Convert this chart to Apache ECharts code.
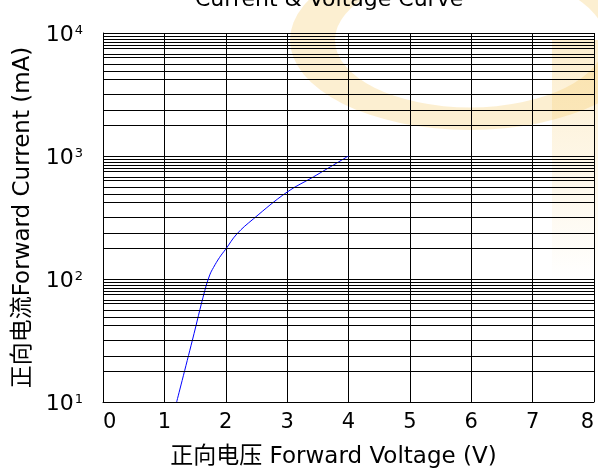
<!DOCTYPE html>
<html>
<head>
<meta charset="utf-8">
<script src="https://cdn.jsdelivr.net/npm/echarts@6/dist/echarts.min.js"></script>
<style>
  html, body { margin: 0; padding: 0; background: #fff; }
  #chart { width: 598px; height: 468px; }
</style>
</head>
<body>
<div id="chart"></div>
<script>
// Forward voltage (V) and forward current (mA) along the I-V curve
const voltage = [1.2, 1.455, 1.66, 1.74, 1.8, 1.9, 2.0, 2.18, 2.45, 3.0, 3.43, 4.0];
const current = [10, 31.6, 81, 108, 124, 150, 175, 232, 308, 509, 677, 1000];

// Axis ranges and tick labels
const xTicks = [0, 1, 2, 3, 4, 5, 6, 7, 8];
const yDecades = [10, 100, 1000, 10000];

// Fine ruling inside each decade of the log paper (mantissas)
const rulingMantissas = [1.78, 2.37, 3.16, 4.22, 4.87, 5.62, 6.31, 6.76, 7.5, 7.94, 8.41, 8.91, 9.33];

const rulingValues = [];
yDecades.slice(0, -1).forEach(d => rulingMantissas.forEach(m => rulingValues.push(m * d)));

const FONT = '"DejaVu Sans", "Noto Sans CJK SC", sans-serif';
const chart = echarts.init(document.getElementById('chart'), null, { renderer: 'canvas' });

chart.setOption({
  animation: false,
  backgroundColor: '#ffffff',
  title: {
    text: 'Current & Voltage Curve',
    left: 190,
    top: -16,
    textStyle: { fontFamily: FONT, fontSize: 22, fontWeight: 'normal', color: '#000' }
  },
  graphic: [
    {
      type: 'ring', z: -10, silent: true,
      shape: { cx: 470, cy: 40, r: 180, r0: 135 },
      scaleY: 0.5, originX: 470, originY: 40,
      style: { fill: '#f6c65b', opacity: 0.28 }
    },
    {
      type: 'rect', z: -10, silent: true,
      shape: { x: 552, y: 40, width: 46, height: 240 },
      style: {
        fill: new echarts.graphic.LinearGradient(0, 0, 0, 1, [
          { offset: 0, color: 'rgba(246,198,91,0.3)' },
          { offset: 1, color: 'rgba(246,198,91,0)' }
        ])
      }
    }
  ],
  grid: { left: 103, right: 4, top: 33, bottom: 66, containLabel: false, outerBoundsMode: 'none' },
  xAxis: {
    type: 'value',
    min: xTicks[0],
    max: xTicks[xTicks.length - 1],
    interval: 1,
    name: '正向电压 Forward Voltage (V)',
    nameLocation: 'middle',
    nameGap: 44,
    nameTextStyle: { fontFamily: FONT, fontSize: 23, color: '#000', padding: [0, 30, 0, 0] },
    axisLine: { show: true, lineStyle: { color: '#000', width: 1 } },
    axisTick: { show: false },
    axisLabel: {
      fontFamily: FONT, fontSize: 21, color: '#000', margin: 10,
      alignMinLabel: 'left', alignMaxLabel: 'right'
    },
    splitLine: { show: true, lineStyle: { color: '#000', width: 1 } }
  },
  yAxis: {
    type: 'log',
    logBase: 10,
    min: yDecades[0],
    max: yDecades[yDecades.length - 1],
    name: '正向电流Forward Current (mA)',
    nameLocation: 'middle',
    nameRotate: 90,
    nameGap: 68,
    nameTextStyle: { fontFamily: FONT, fontSize: 23, color: '#000' },
    axisLine: { show: true, lineStyle: { color: '#000', width: 1 } },
    axisTick: { show: false },
    axisLabel: {
      margin: 20,
      formatter: v => '{b|10}{e|' + Math.round(Math.log10(v)) + '}',
      rich: {
        b: { fontFamily: FONT, fontSize: 22, color: '#000', lineHeight: 26, verticalAlign: 'bottom', padding: [6, 0, 0, 0] },
        e: { fontFamily: FONT, fontSize: 13, color: '#000', lineHeight: 13, verticalAlign: 'top', padding: [4, 0, 0, 1] }
      }
    },
    splitLine: { show: true, lineStyle: { color: '#000', width: 1 } }
  },
  series: [
    {
      // fine ruling of the log paper
      type: 'line',
      z: 1,
      data: [],
      silent: true,
      markLine: {
        silent: true,
        symbol: 'none',
        animation: false,
        label: { show: false },
        lineStyle: { color: '#000', width: 1, type: 'solid' },
        data: rulingValues.map(v => ({ yAxis: v }))
      }
    },
    {
      type: 'line',
      z: 3,
      data: voltage.map((v, i) => [v, current[i]]),
      showSymbol: false,
      smooth: 0.4,
      lineStyle: { color: '#0000ff', width: 1 }
    }
  ]
});
</script>
</body>
</html>
